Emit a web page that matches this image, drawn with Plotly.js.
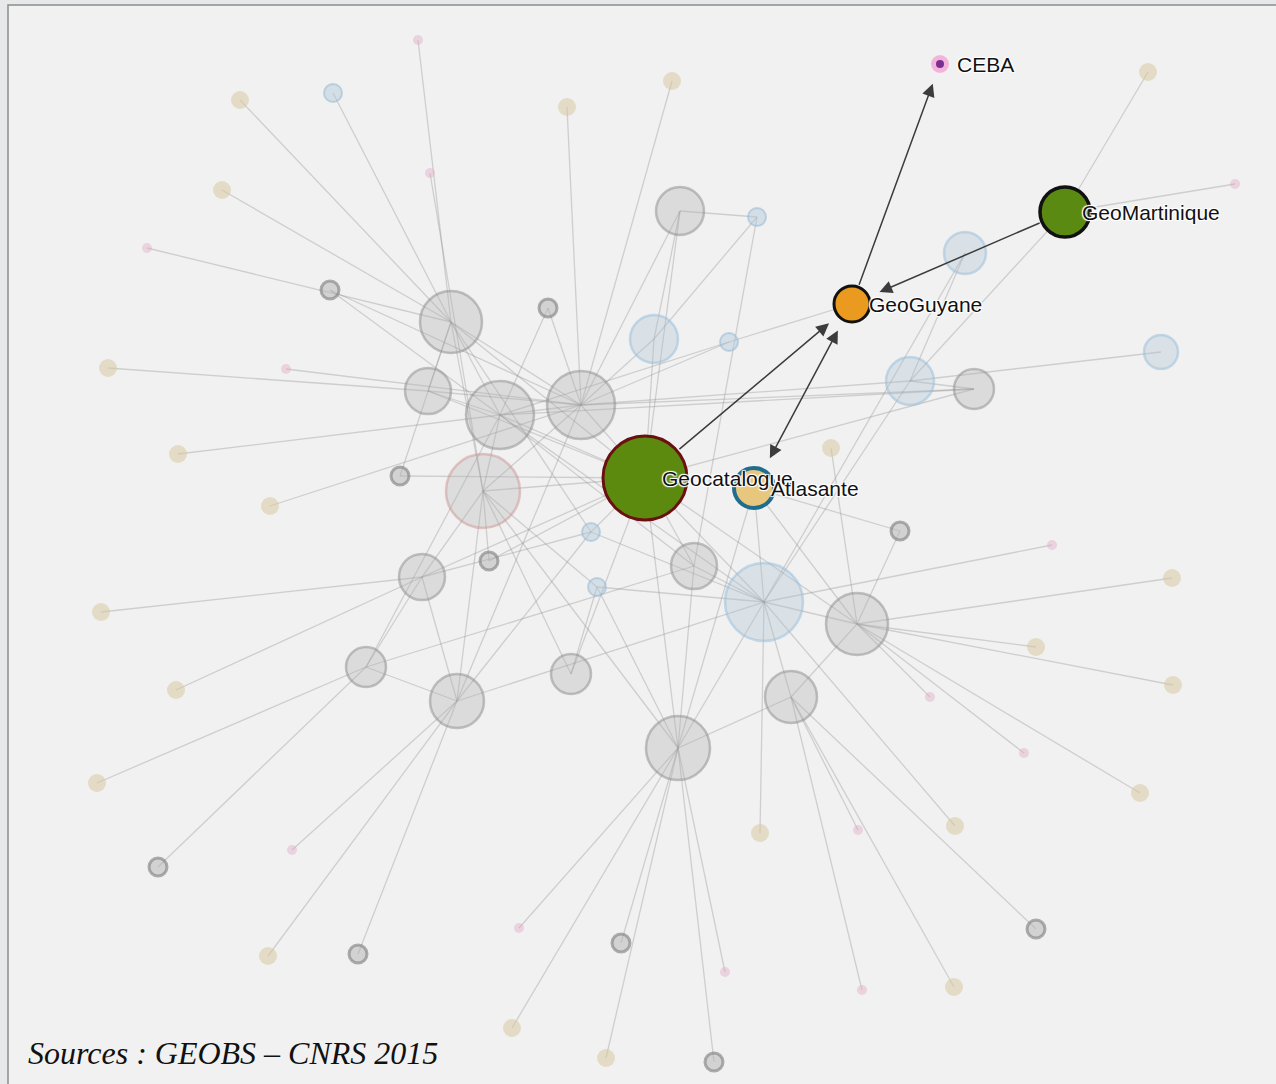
<!DOCTYPE html>
<html>
<head>
<meta charset="utf-8">
<script src="https://cdn.plot.ly/plotly-3.0.1.min.js"></script>
<style>
  html, body { margin: 0; padding: 0; background: #e7e8ea; }
  #chart { width: 1276px; height: 1084px; }
</style>
</head>
<body>
<div id="chart"></div>
<script>
// ---------------- DATA ----------------
const nodeNames = [
  "A","B","C","D","E","F","G","H","I","J","K","L","M","N","O","P","Q","R","S","T",
  "g1","g2","g3","g4","g5","g6","g7","g8","g9","g10",
  "b1","b2","b3","b4","b5",
  "t1","t2","t3","t4","t5","t6","t7","t8","t9","t10","t11","t12","t13","t14","t15","t16","t17","t18","t19","t20","t21","t22",
  "p1","p2","p3","p4","p5","p6","p7","p8","p9","p10","p11","p12","p13",
  "Geocatalogue","Atlasante","GeoGuyane","GeoMartinique","CEBA"
];
const nodeX = [
  451,428,500,581,483,422,366,457,571,694,764,857,791,678,680,654,910,974,965,1161,
  330,548,400,489,900,158,358,621,1036,714,
  333,757,729,591,597,
  240,222,108,178,270,101,176,97,567,672,1148,831,1172,1036,1173,1140,955,760,268,512,606,954,
  418,430,147,286,1235,1052,930,1024,858,292,519,725,862,
  645,754,852,1065,940
];
const nodeY = [
  322,391,415,405,491,577,667,701,674,566,602,624,697,748,211,339,381,389,253,352,
  290,308,476,561,531,867,954,943,929,1062,
  93,217,342,532,587,
  100,190,368,454,506,612,690,783,107,81,72,448,578,647,685,793,826,833,956,1028,1058,987,
  40,173,248,369,184,545,697,753,830,850,928,972,990,
  478,488,304,212,64
];
const nodeRadius = [
  31,23,34,34,37,23,20,27,20,23,39,31,26,32,24,24,24,20,21,17,
  9,9,9,9,9,9,9,9,9,9,
  9,9,9,9,9,
  9,9,9,9,9,9,9,9,9,9,9,9,9,9,9,9,9,9,9,9,9,9,
  5,5,5,5,5,5,5,5,5,5,5,5,5,
  42,20,18,25,9
];
const nodeGroup = [
  "hubGray","hubGray","hubGray","hubGray","hubRose","hubGray","hubGray","hubGray","hubGray","hubGray",
  "hubBlue","hubGray","hubGray","hubGray","hubGray","hubBlue","hubBlue","hubGray","hubBlue","hubBlue",
  "smallGray","smallGray","smallGray","smallGray","smallGray","smallGray","smallGray","smallGray","smallGray","smallGray",
  "smallBlue","smallBlue","smallBlue","smallBlue","smallBlue",
  "tan","tan","tan","tan","tan","tan","tan","tan","tan","tan","tan","tan","tan","tan","tan","tan","tan","tan","tan","tan","tan","tan",
  "pink","pink","pink","pink","pink","pink","pink","pink","pink","pink","pink","pink","pink",
  "geocatalogue","atlasante","geoguyane","geomartinique","ceba"
];
const labelledNodes = ["CEBA","GeoMartinique","GeoGuyane","Geocatalogue","Atlasante"];

// faint links
const edgeSource = [
  "t1","b1","t2","p3","p1","p2","t3","p4","t4","t5","t6","t7","t8","g6","p10","t19","g7","t9","t10","t11","p5",
  "t12","t13","t14","t15","t16","p7","p8","p6","t17","p9","g9","p13","t22","t18","p11","t20","g8","t21","g10","p12",
  "A","A","A","A","A","B","B","B","C","C","C","C","C","D","D","D","D","D","D","E","E","E","E","E",
  "F","F","F","G","G","H","H","H","I","I","J","J","J","K","K","K","K","K","K","K","L","L","L","L",
  "M","N","N","N","N","O","O","O","P","P","b3","b3","b3","Q","Q","Q","S","S","R",
  "g1","g1","g2","g2","g3","g3","g4","g4","b4","b4","b5","G","F","R","Atlasante","Atlasante"
];
const edgeTarget = [
  "A","A","A","A","A","E","B","D","C","D","F","F","G","G","H","H","H","D","D","GeoMartinique","GeoMartinique",
  "L","L","L","L","L","L","L","K","K","M","M","M","M","K","N","N","N","N","N","N",
  "C","D","B","Geocatalogue","E","C","Geocatalogue","D","D","Geocatalogue","E","J","K","Geocatalogue","P","O","Q","R","E","Geocatalogue","F","H","I","N",
  "G","Geocatalogue","H","H","C","D","b4","K","b5","Geocatalogue","Geocatalogue","K","b2","Geocatalogue","L","M","N","b4","b5","Q","M","Geocatalogue","g5","Atlasante",
  "N","Geocatalogue","b5","J","Atlasante","b2","Geocatalogue","P","b2","Geocatalogue","GeoGuyane","C","D","R","T","GeoMartinique","Q","K","Geocatalogue",
  "C","D","C","D","Geocatalogue","A","E","Geocatalogue","Geocatalogue","A","E","J","b4","C","g5","K"
];

// directed links between labelled catalogues
const arrowSource = ["GeoGuyane","GeoMartinique","Geocatalogue","Atlasante"];
const arrowTarget = ["CEBA","GeoGuyane","GeoGuyane","GeoGuyane"];
const arrowBothWays = [false,false,false,true];

const sourceNote = "Sources : GEOBS – CNRS 2015";

// ---------------- BUILD ----------------
const idx = {};
nodeNames.forEach((n, i) => { idx[n] = i; });

const styles = {
  hubGray:      {fill: "rgba(175,175,175,0.33)", line: "rgba(140,140,140,0.5)", w: 2.5},
  hubRose:      {fill: "rgba(175,175,175,0.30)", line: "rgba(205,150,150,0.5)", w: 2.5},
  hubBlue:      {fill: "rgba(170,190,210,0.33)", line: "rgba(150,190,220,0.5)", w: 2.5},
  smallGray:    {fill: "rgba(180,180,180,0.5)",  line: "rgba(125,125,125,0.6)", w: 3},
  smallBlue:    {fill: "rgba(175,200,220,0.45)", line: "rgba(150,185,210,0.55)", w: 2},
  tan:          {fill: "rgba(215,200,160,0.55)", line: "rgba(215,200,160,0.0)", w: 0},
  pink:         {fill: "rgba(225,170,195,0.42)", line: "rgba(225,170,195,0.0)", w: 0},
  geocatalogue: {fill: "#5c8a0e", line: "#6a1010", w: 3},
  atlasante:    {fill: "#e7c77d", line: "#1f6d8e", w: 4},
  geoguyane:    {fill: "#e99a1f", line: "#111111", w: 3},
  geomartinique:{fill: "#5b8a12", line: "#111111", w: 3.5},
  ceba:         {fill: "#f3b4dc", line: "#f3b4dc", w: 0}
};

const traces = [];

// edges
const ex = [], ey = [];
for (let k = 0; k < edgeSource.length; k++) {
  const a = idx[edgeSource[k]], b = idx[edgeTarget[k]];
  ex.push(nodeX[a], nodeX[b], null);
  ey.push(nodeY[a], nodeY[b], null);
}
traces.push({
  type: "scatter", mode: "lines", x: ex, y: ey, hoverinfo: "skip",
  line: {color: "rgba(150,150,150,0.38)", width: 1.3}, showlegend: false
});

// nodes, group by group (order controls stacking)
const order = ["tan","pink","smallBlue","smallGray","hubBlue","hubRose","hubGray","atlasante","geocatalogue","geoguyane","geomartinique","ceba"];
order.forEach(g => {
  const xs = [], ys = [], ss = [], tt = [];
  nodeNames.forEach((n, i) => {
    if (nodeGroup[i] === g) { xs.push(nodeX[i]); ys.push(nodeY[i]); ss.push(2 * nodeRadius[i]); tt.push(n); }
  });
  const st = styles[g];
  traces.push({
    type: "scatter", mode: "markers", x: xs, y: ys, text: tt, hoverinfo: "text",
    marker: {size: ss, opacity: 1, color: st.fill, line: {color: st.line, width: st.w}},
    showlegend: false
  });
});
// CEBA purple centre
const ci = idx["CEBA"];
traces.push({
  type: "scatter", mode: "markers", x: [nodeX[ci]], y: [nodeY[ci]], hoverinfo: "skip",
  marker: {size: 8, opacity: 1, color: "#7a2f93"}, showlegend: false
});

const annotations = [];
// arrows
for (let k = 0; k < arrowSource.length; k++) {
  const s = idx[arrowSource[k]], t = idx[arrowTarget[k]];
  annotations.push({
    x: nodeX[t], y: nodeY[t], ax: nodeX[s], ay: nodeY[s],
    xref: "x", yref: "y", axref: "x", ayref: "y",
    text: "", showarrow: true,
    arrowhead: 2, startarrowhead: 2, arrowsize: 1.7, startarrowsize: 1.7,
    arrowside: arrowBothWays[k] ? "end+start" : "end",
    arrowwidth: 1.5, arrowcolor: "#3c3c3c",
    standoff: nodeRadius[t] + 12,
    startstandoff: arrowBothWays[k] ? nodeRadius[s] + 12 : nodeRadius[s] + 1
  });
}
// labels
labelledNodes.forEach(n => {
  const i = idx[n];
  annotations.push({
    x: nodeX[i], y: nodeY[i], xref: "x", yref: "y", xanchor: "left", yanchor: "middle",
    xshift: 15, showarrow: false, text: n,
    font: {family: "Liberation Sans, Arial, sans-serif", size: 21, color: "#111111",
           shadow: "1px 1px 1px #fff, -1px -1px 1px #fff, 1px -1px 1px #fff, -1px 1px 1px #fff"}
  });
});
// source note
annotations.push({
  x: 26, y: 1053, xref: "x", yref: "y", xanchor: "left", yanchor: "middle",
  showarrow: false, text: "<i>" + sourceNote + "</i>",
  font: {family: "Liberation Serif, Times New Roman, serif", size: 32, color: "#111111"}
});

const layout = {
  width: 1276, height: 1084,
  margin: {l: 0, r: 0, t: 0, b: 0, pad: 0},
  paper_bgcolor: "#e7e8ea",
  plot_bgcolor: "rgba(0,0,0,0)",
  xaxis: {range: [0, 1276], visible: false, fixedrange: true},
  yaxis: {range: [1084, 0], visible: false, fixedrange: true},
  showlegend: false,
  hovermode: "closest",
  shapes: [{
    type: "rect", xref: "x", yref: "y", x0: 8, y0: 5, x1: 1290, y1: 1095,
    fillcolor: "#f1f1f1", line: {color: "#8c8c8c", width: 1.5}, layer: "below"
  }],
  annotations: annotations
};

Plotly.newPlot("chart", traces, layout, {displayModeBar: false});
</script>
</body>
</html>
